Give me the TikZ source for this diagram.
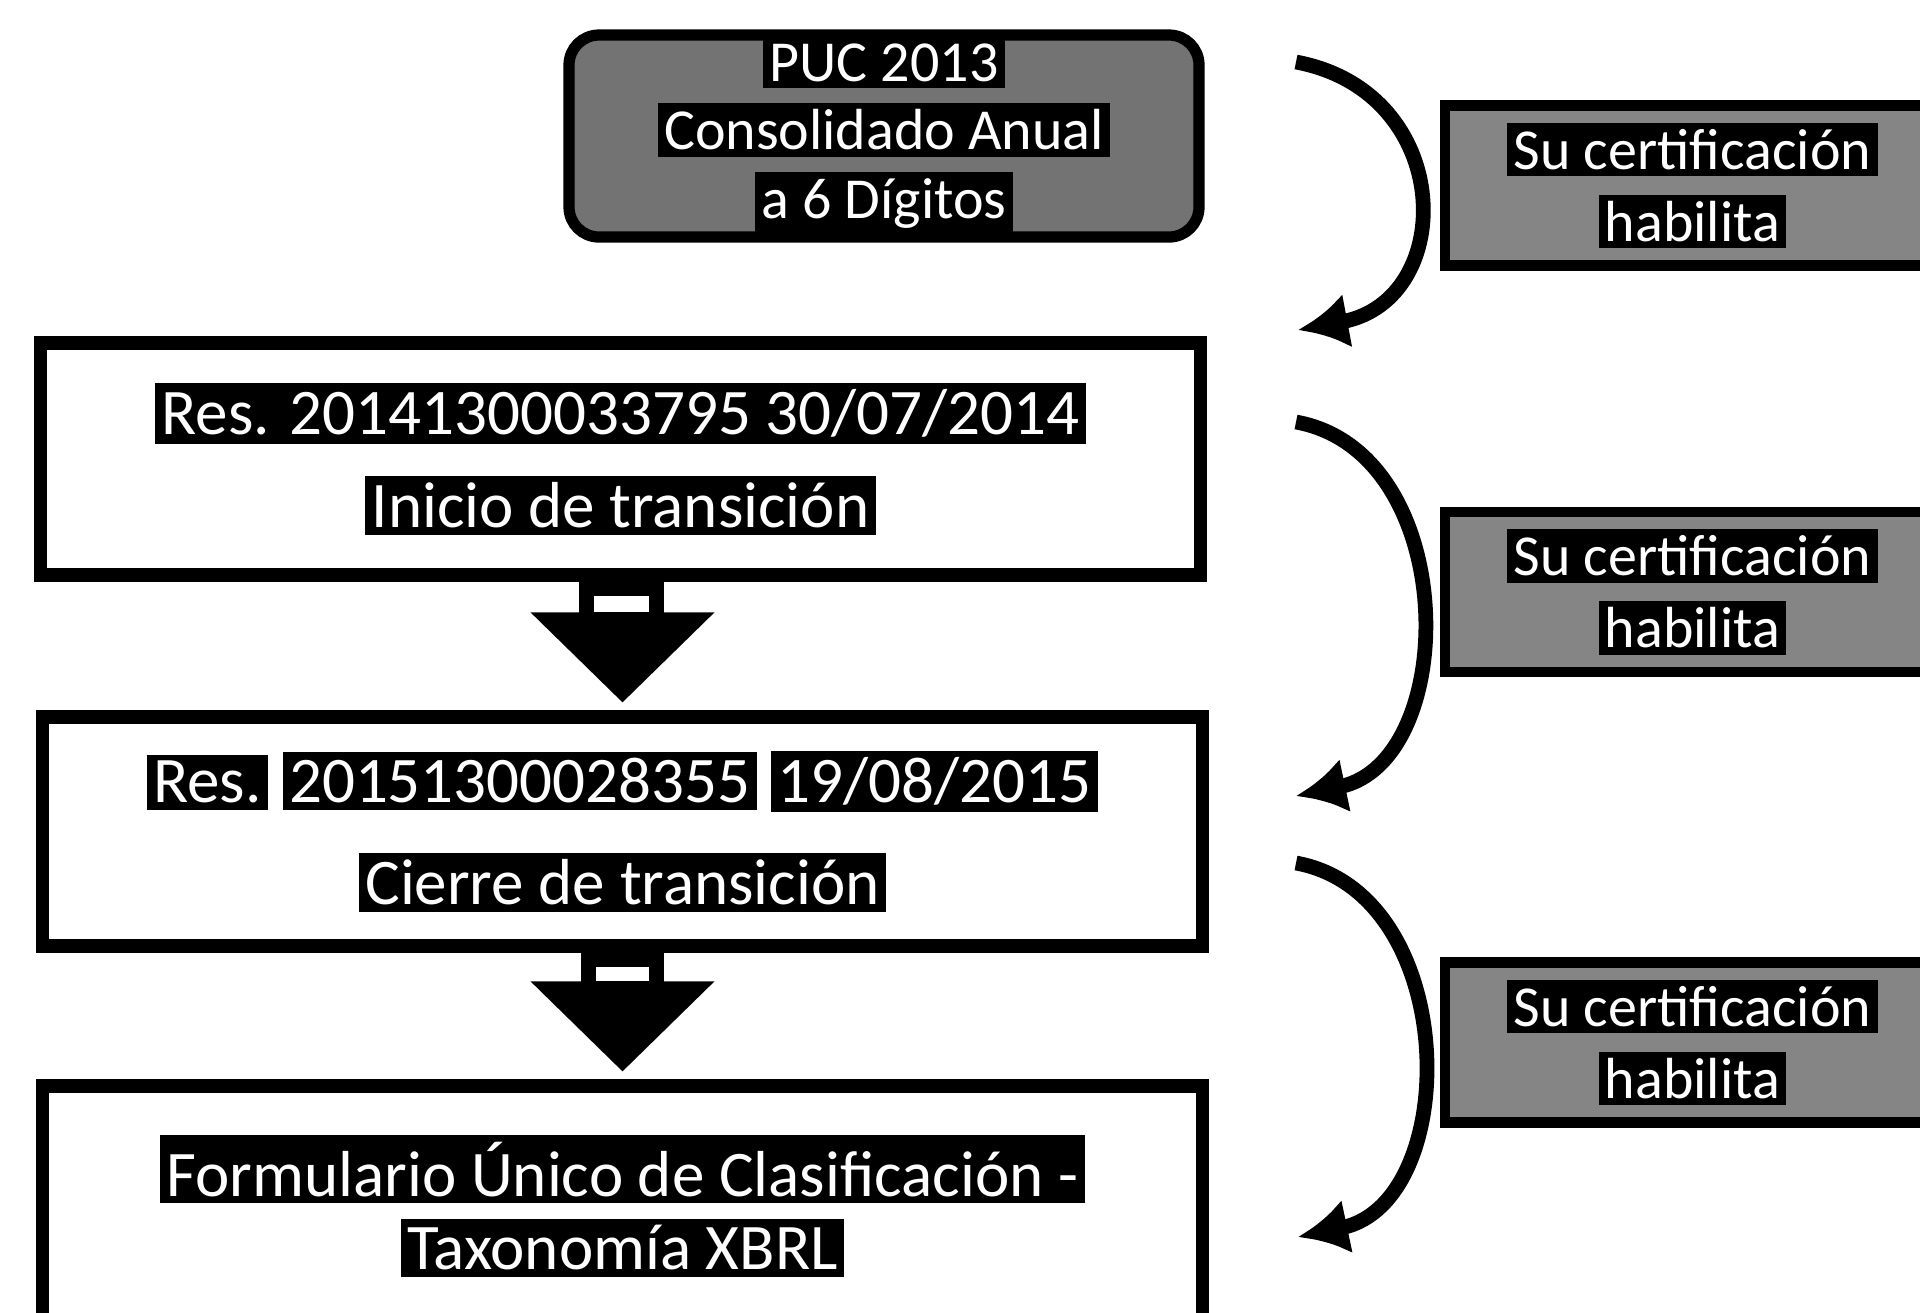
\documentclass[tikz,border=0pt]{standalone}
\usepackage{fontspec}
\setmainfont{Carlito}
\usepackage{xcolor}
\usetikzlibrary{arrows.meta,calc}
\setlength{\fboxsep}{1.8pt}
\newcommand{\hlt}[1]{\colorbox{black}{\textcolor{white}{#1}}}

\begin{document}
\begin{tikzpicture}[
  stage/.style={draw=black, line width=3.8pt, fill=white, minimum width=11.6cm, align=center, font=\fontsize{18.5}{23}\selectfont},
  source/.style={draw=black, line width=3.2pt, rounded corners=3mm, fill=black!55, minimum width=6.3cm, minimum height=2.02cm, inner ysep=0pt, align=center, font=\fontsize{16.5}{19.5}\selectfont},
  cert/.style={draw=black, line width=3pt, fill=black!48, minimum width=4.95cm, minimum height=1.6cm, align=center, font=\fontsize{16.5}{20.5}\selectfont},
  flow/.style={-{Latex[length=5mm,width=5.5mm]}, line width=4.2pt, draw=black},
  shaft/.style={draw=black, line width=4.5pt, fill=white},
  head/.style={fill=black}
]
\useasboundingbox (0,0) rectangle (19.2,-13.12);
% left column
\node[source] (puc) at (8.84,-1.36) {\hlt{PUC 2013}\\\hlt{Consolidado Anual}\\\hlt{a 6 Dígitos}};
\node[stage, minimum height=2.32cm] (res1) at (6.205,-4.59) {\hlt{Res. 20141300033795 30/07/2014}\\[3.5pt]\hlt{Inicio de transición}};
\node[stage, minimum height=2.29cm] (res2) at (6.225,-8.315) {\hlt{Res.} \hlt{20151300028355} \hlt{19/08/2015}\\[6pt]\hlt{Cierre de transición}};
\node[stage, minimum height=2.4cm] (fuc) at (6.225,-12.06) {\hlt{Formulario Único de Clasificación -}\\[-2pt]\hlt{Taxonomía XBRL}};
% block arrows
\draw[shaft] ($(res1.south)+(-0.34,-0.06)$) rectangle ($(res2.north)+(0.34,0.90)$);
\fill[head] ($(res2.north)+(-0.92,0.98)$) -- ($(res2.north)+(0.92,0.98)$) -- ($(res2.north)+(0,0.08)$) -- cycle;
\draw[shaft] ($(res2.south)+(-0.34,-0.06)$) rectangle ($(fuc.north)+(0.34,0.90)$);
\fill[head] ($(fuc.north)+(-0.92,0.98)$) -- ($(fuc.north)+(0.92,0.98)$) -- ($(fuc.north)+(0,0.08)$) -- cycle;
% right column
\node[cert] (cert1) at (16.925,-1.855) {\hlt{Su certificación}\\\hlt{habilita}};
\node[cert] (cert2) at (16.925,-5.92) {\hlt{Su certificación}\\\hlt{habilita}};
\node[cert] (cert3) at (16.925,-10.425) {\hlt{Su certificación}\\\hlt{habilita}};
\coordinate (c1s) at (12.96,-0.62);
\coordinate (c1e) at (12.98,-3.30);
\coordinate (c2s) at (12.96,-4.22);
\coordinate (c2e) at (12.96,-7.96);
\coordinate (c3s) at (12.96,-8.63);
\coordinate (c3e) at (12.98,-12.37);
\draw[flow] (c1s) .. controls +(1.6,-0.3) and +(1.6,0.3) .. (c1e);
\draw[flow] (c2s) .. controls +(1.65,-0.3) and +(1.65,0.35) .. (c2e);
\draw[flow] (c3s) .. controls +(1.65,-0.3) and +(1.65,0.35) .. (c3e);
\end{tikzpicture}
\end{document}
